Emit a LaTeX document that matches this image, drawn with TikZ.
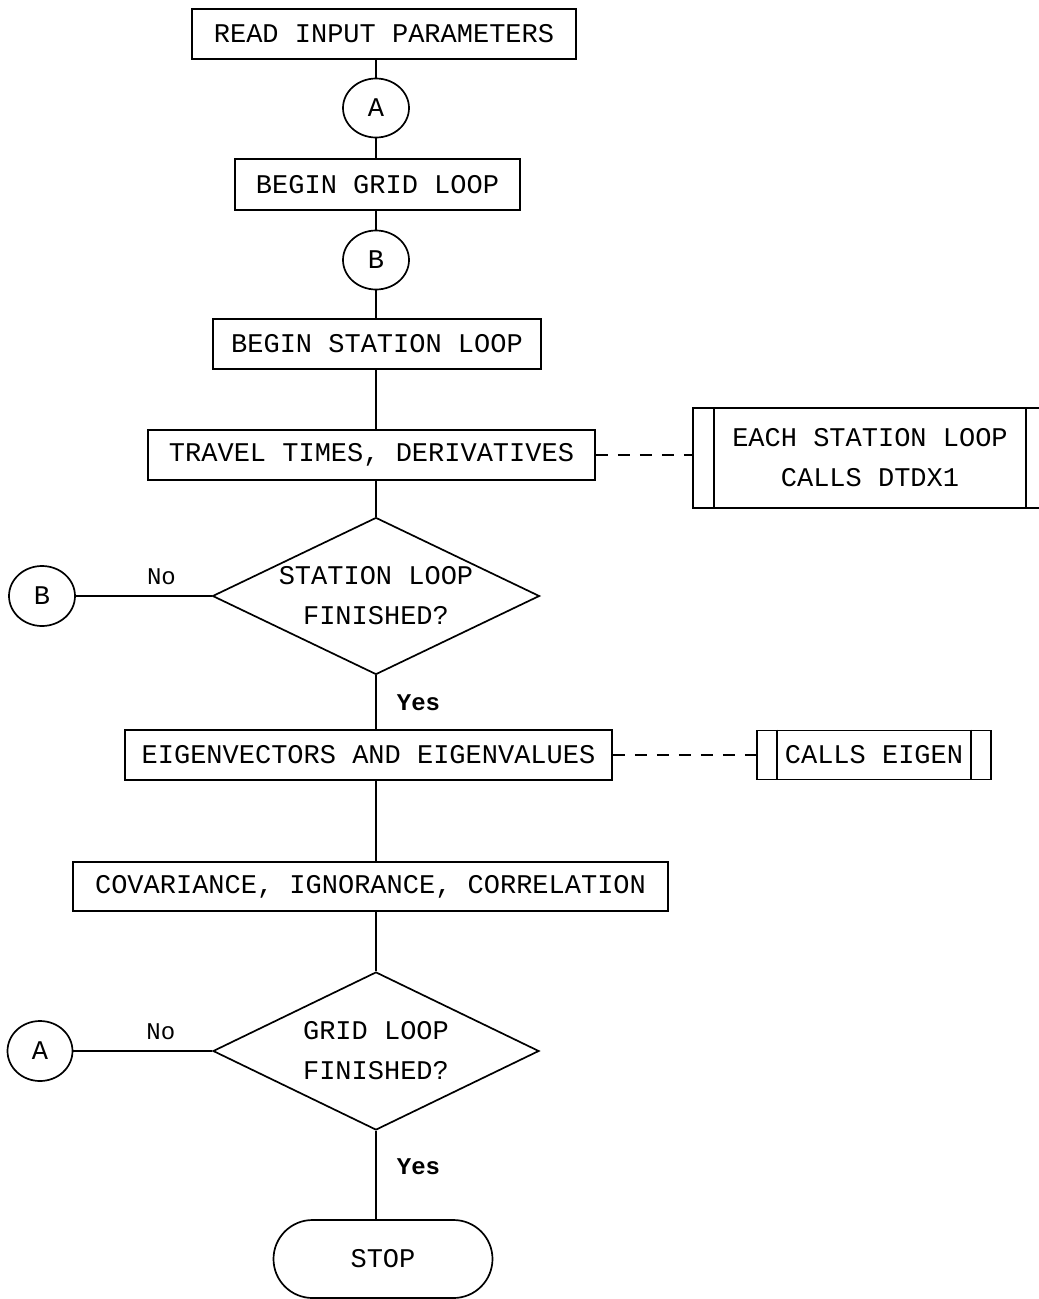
\documentclass[tikz,border=0pt]{standalone}
\usepackage{fontspec}
\setmonofont{Liberation Mono}
\usetikzlibrary{shapes.geometric,shapes.misc}
\begin{document}
\begin{tikzpicture}[x=1pt,y=-1pt,
  every node/.style={font=\ttfamily\fontsize{27}{40}\selectfont, inner sep=0pt},
  ln/.style={line width=1.7pt},
  box/.style={draw, rectangle, minimum height=50pt, ln},
  conn/.style={draw, ellipse, minimum width=66pt, minimum height=59pt, ln},
  dec/.style={draw, diamond, shape aspect=2.08, minimum width=327pt, minimum height=157pt, align=center, ln},
  sub/.style={draw, rectangle, align=center, ln},
  term/.style={draw, rounded rectangle, minimum width=219pt, minimum height=78pt, ln},
  lab/.style={font=\ttfamily\fontsize{24}{28}\selectfont},
  yeslab/.style={font=\ttfamily\bfseries\fontsize{24}{28}\selectfont},
  dsh/.style={ln, dash pattern=on 12pt off 10pt}
]
\clip (0,0) rectangle (1039,1299);
\fill[white] (0,0) rectangle (1039,1299);

\node[box, minimum width=384pt] (read) at (384,34) {READ INPUT PARAMETERS};
\node[conn] (A1) at (376,108) {A};
\node[box, minimum width=285pt, minimum height=51pt] (grid) at (377.5,184.5) {BEGIN GRID LOOP};
\node[conn] (B1) at (376,260) {B};
\node[box, minimum width=328pt] (station) at (377,344) {BEGIN STATION LOOP};
\node[box, minimum width=447pt] (travel) at (371.5,455) {TRAVEL TIMES, DERIVATIVES};
\node[sub, minimum width=354pt, minimum height=100pt] (each) at (870,458) {EACH STATION LOOP\\CALLS DTDX1};
\draw[ln] ([xshift=22pt]each.north west) -- ([xshift=22pt]each.south west);
\draw[ln] ([xshift=-22pt]each.north east) -- ([xshift=-22pt]each.south east);

\node[dec] (d1) at (376,596) {STATION LOOP\\FINISHED?};
\node[conn, minimum width=66pt, minimum height=60pt] (B2) at (42,596) {B};

\node[box, minimum width=487pt] (eigen) at (368.5,755) {EIGENVECTORS AND EIGENVALUES};
\node[sub, minimum width=234pt, minimum height=49pt] (calls) at (874,755) {CALLS EIGEN};
\draw[ln] ([xshift=21pt]calls.north west) -- ([xshift=21pt]calls.south west);
\draw[ln] ([xshift=-21pt]calls.north east) -- ([xshift=-21pt]calls.south east);

\node[box, minimum width=595pt, minimum height=49pt] (cov) at (370.5,886.5) {COVARIANCE, IGNORANCE, CORRELATION};

\node[dec, minimum height=158pt, minimum width=326pt] (d2) at (376,1051) {GRID LOOP\\FINISHED?};
\node[conn, minimum width=65pt, minimum height=60pt] (A2) at (40,1051) {A};

\node[term] (stop) at (383,1259) {STOP};

% main flow
\draw[ln] (read.south -| A1) -- (A1.north);
\draw[ln] (A1.south) -- (A1 |- grid.north);
\draw[ln] (B1 |- grid.south) -- (B1.north);
\draw[ln] (B1.south) -- (B1 |- station.north);
\draw[ln] (d1 |- station.south) -- (d1 |- travel.north);
\draw[ln] (d1 |- travel.south) -- (d1.north);
\draw[ln] (d1.south) -- node[yeslab, right=20pt]{Yes} (d1 |- eigen.north);
\draw[ln] (d2 |- eigen.south) -- (d2 |- cov.north);
\draw[ln] (d2 |- cov.south) -- (d2.north);
\draw[ln] (d2.south) -- node[yeslab, pos=0.41, right=20pt]{Yes} (d2 |- stop.north);

% loop-back connectors
\draw[ln] (B2.east) -- node[lab, pos=0.63, above=10pt]{No} (d1.west);
\draw[ln] (A2.east) -- node[lab, pos=0.63, above=10pt]{No} (d2.west);

% dashed links to subroutines
\draw[dsh] (travel.east) -- (travel.east -| each.west);
\draw[dsh] (eigen.east) -- (eigen.east -| calls.west);
\end{tikzpicture}
\end{document}
